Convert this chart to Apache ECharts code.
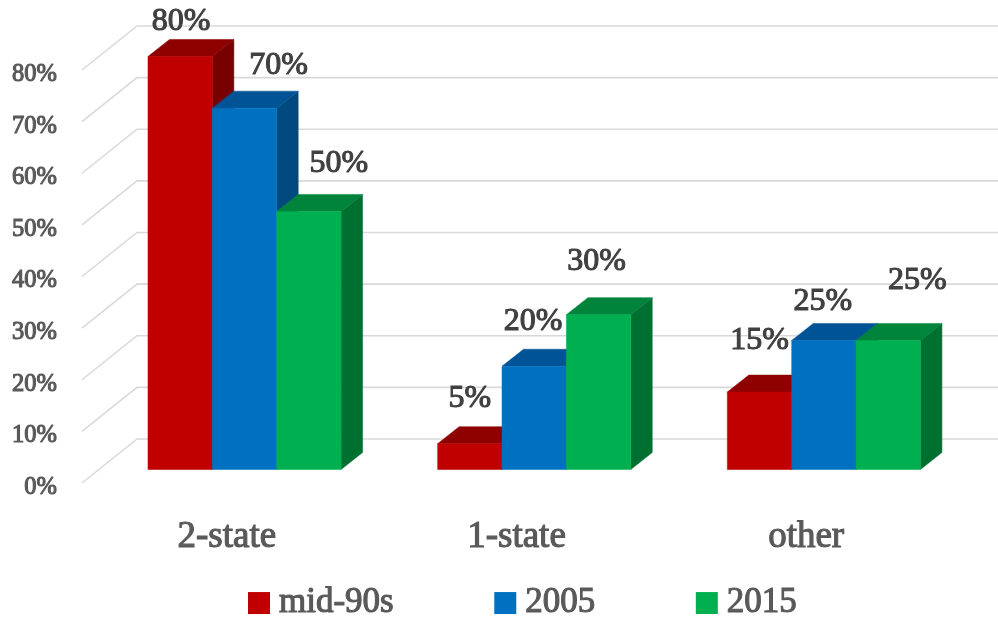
<!DOCTYPE html>
<html>
<head>
<meta charset="utf-8">
<style>html,body{margin:0;padding:0;background:#fff}#c{width:998px;height:620px}</style>
<script src="https://cdn.jsdelivr.net/npm/echarts@6/dist/echarts.min.js"></script>
</head>
<body>
<div id="c"></div>
<script>
const categories = ['2-state', '1-state', 'other'];
const seriesNames = ['mid-90s', '2005', '2015'];
const mid90s = [80, 5, 15];
const y2005 = [70, 20, 25];
const y2015 = [50, 30, 25];
const yTicks = [0, 10, 20, 30, 40, 50, 60, 70, 80];

// style tables, separate from the data
const FONT = '"Liberation Serif", serif';
const palette = [
  { front: '#C00000', top: '#8F0000', side: '#780000' },
  { front: '#0070C0', top: '#005496', side: '#004A80' },
  { front: '#00B050', top: '#00843C', side: '#007030' }
];
const labelNudges = [
  [[1, -35], [0, -45], [0, -51]],
  [[34, -43], [-1, -45], [-1, -39]],
  [[30, -48], [-2, -53], [29, -60]]
];
const depth = { barX: 21.5, barY: 17, planeX: 17.7, planeY: 13.5, wallX: 55, wallY: 44 };

function barRender(sIdx) {
  return function (params, api) {
    const val = api.value(1);
    const top = api.coord([api.value(0), val]);
    const base = api.coord([api.value(0), 0]);
    const bw = api.size([1, 0])[0] / 4.5;
    const x0 = top[0] - bw * 1.5 + sIdx * bw + depth.planeX;
    const x1 = x0 + bw;
    const yT = top[1] - depth.planeY;
    const yB = base[1] - depth.planeY;
    const dx = depth.barX, dy = depth.barY, c = palette[sIdx];
    const nudge = labelNudges[sIdx][params.dataIndex];
    const poly = (pts, fill) => ({
      type: 'polygon', shape: { points: pts },
      style: { fill: fill, stroke: fill, lineWidth: 0.5 }
    });
    return {
      type: 'group',
      children: [
        poly([[x1, yT], [x1 + dx, yT - dy], [x1 + dx, yB - dy], [x1, yB]], c.side),
        poly([[x0, yT], [x0 + dx, yT - dy], [x1 + dx, yT - dy], [x1, yT]], c.top),
        poly([[x0, yT], [x1, yT], [x1, yB], [x0, yB]], c.front),
        {
          type: 'text', z2: 100,
          x: (x0 + x1) / 2 + nudge[0], y: yT + nudge[1],
          style: {
            text: val + '%', fill: '#404040', align: 'center', verticalAlign: 'middle',
            font: '32px ' + FONT, stroke: '#404040', lineWidth: 1.1
          }
        }
      ]
    };
  };
}

function wallRender(params, api) {
  const y = api.coord([0, api.value(0)])[1];
  const r = params.coordSys;
  return {
    type: 'polyline',
    shape: { points: [[r.x, y], [r.x + depth.wallX, y - depth.wallY], [r.x + r.width + depth.wallX, y - depth.wallY]] },
    style: { fill: null, stroke: '#D9D9D9', lineWidth: 1.6 },
    silent: true
  };
}

const heavy = { textBorderColor: '#595959', textBorderWidth: 1.1 };
const rows = [mid90s, y2005, y2015];
const chart = echarts.init(document.getElementById('c'));
chart.setOption({
  animation: false,
  backgroundColor: '#fff',
  grid: { left: 82, top: 70, width: 869, height: 413, containLabel: false },
  xAxis: {
    type: 'category', data: categories,
    axisLine: { show: false }, axisTick: { show: false }, splitLine: { show: false },
    axisLabel: Object.assign({ margin: 36, color: '#595959', fontFamily: FONT, fontSize: 37 }, heavy)
  },
  yAxis: {
    type: 'value', min: 0, max: 80, interval: 10,
    axisLine: { show: false }, axisTick: { show: false }, splitLine: { show: false },
    axisLabel: Object.assign({ margin: 25, color: '#595959', fontFamily: FONT, fontSize: 24.5, formatter: '{value}%', verticalAlign: 'top', lineHeight: 9 }, heavy)
  },
  legend: {
    data: seriesNames, top: 580, left: 243, icon: 'rect',
    itemWidth: 22, itemHeight: 22, itemGap: 100,
    textStyle: Object.assign({ color: '#595959', fontFamily: FONT, fontSize: 35, padding: [0, 0, 0, 4] }, heavy)
  },
  series: [
    {
      name: 'gridlines', type: 'custom', renderItem: wallRender, silent: true, z: 1,
      encode: { y: 0 }, data: yTicks.map(v => [v])
    }
  ].concat(seriesNames.map((name, i) => ({
    name: name, type: 'custom', renderItem: barRender(i), z: 2 + i,
    itemStyle: { color: palette[i].front },
    encode: { x: 0, y: 1 },
    data: rows[i].map((v, k) => [k, v])
  })))
});
</script>
</body>
</html>
